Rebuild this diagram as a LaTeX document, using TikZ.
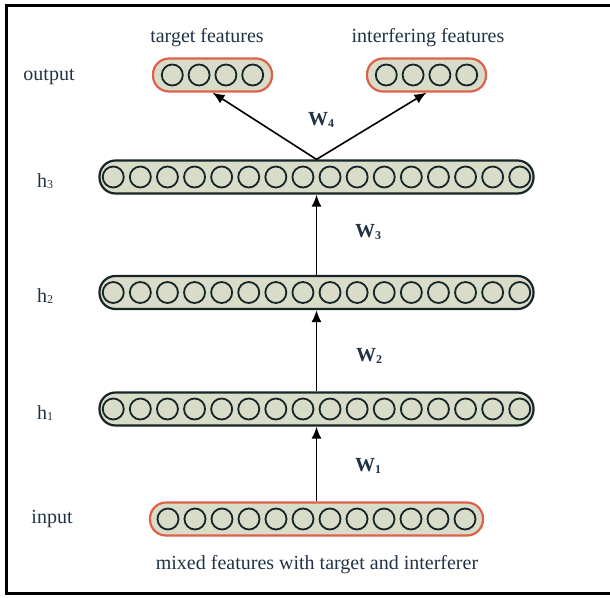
\documentclass[tikz,border=0pt]{standalone}
\usepackage{fontspec}
\setmainfont{Liberation Serif}
\usetikzlibrary{arrows.meta}
\definecolor{barfill}{RGB}{216,220,200}
\definecolor{darkline}{RGB}{22,38,40}
\definecolor{redline}{RGB}{222,98,74}
\definecolor{txt}{RGB}{32,50,68}
\newcommand{\sub}[1]{{\fontsize{12}{12}\selectfont\raisebox{-1.5pt}{#1}}}
\begin{document}
\begin{tikzpicture}[x=1pt,y=-1pt,
  hidbar/.style={rectangle, draw=darkline, line width=2.2pt, fill=barfill, rounded corners=16pt, minimum height=33pt, minimum width=434pt, inner sep=0pt},
  iobar/.style={rectangle, draw=redline, line width=2.2pt, fill=barfill, rounded corners=16pt, minimum height=33pt, inner sep=0pt},
  unit/.style={circle, draw=darkline, line width=1.8pt, minimum size=21pt, inner sep=0pt},
  lbl/.style={text=txt, font=\fontsize{20}{24}\selectfont, inner sep=0pt},
  wlbl/.style={text=txt, font=\fontsize{20}{24}\selectfont\bfseries, inner sep=0pt},
  arr/.style={draw=black, line width=1.6pt, -{Latex[length=12pt,width=10pt]}}]
\useasboundingbox (0,0) rectangle (610,597);
% frame
\draw[line width=3pt, black] (612,5.5) -- (6.5,5.5) -- (6.5,593) -- (612,593);
% bars
\node[iobar, minimum width=119pt] (tgt) at (212.5,75) {};
\node[iobar, minimum width=119pt] (intf) at (426.5,75) {};
\node[hidbar] (h3) at (316.5,177) {};
\node[hidbar] (h2) at (316.5,292.5) {};
\node[hidbar] (h1) at (316.5,409) {};
\node[iobar, minimum width=333pt] (inp) at (316.5,519) {};
% units
\foreach \i in {1,...,4} {
  \node[unit] (tu\i) at ({212.5+(\i-2.5)*26.8},75) {};
  \node[unit] (iu\i) at ({426.5+(\i-2.5)*26.8},75) {};
}
\foreach \i in {1,...,16} {
  \node[unit] (hc\i) at ({316.5+(\i-8.5)*27.1},177) {};
  \node[unit] (hb\i) at ({316.5+(\i-8.5)*27.1},292.5) {};
  \node[unit] (ha\i) at ({316.5+(\i-8.5)*27.1},409) {};
}
\foreach \i in {1,...,12} {
  \node[unit] (xu\i) at ({316.5+(\i-6.5)*27.0},519) {};
}
% connectors
\draw[arr] (inp.north) -- (h1.south);
\draw[arr] (h1.north) -- (h2.south);
\draw[arr] (h2.north) -- (h3.south);
\draw[arr] (h3.north) -- (tgt.south);
\draw[arr] (h3.north) -- (intf.south);
% labels
\node[lbl] (ltgt) at (207,38) {target features};
\node[lbl] (lint) at (428,38) {interfering features};
\node[lbl] (lout) at (49,77) {output};
\node[lbl] (lh3) at (45,181) {h\sub{3}};
\node[lbl] (lh2) at (45,296) {h\sub{2}};
\node[lbl] (lh1) at (45,413) {h\sub{1}};
\node[lbl] (lin) at (52,519) {input};
\node[lbl] (lmix) at (317,565) {mixed features with target and interferer};
\node[wlbl] (w4) at (321,120) {W\sub{4}};
\node[wlbl] (w3) at (368,232) {W\sub{3}};
\node[wlbl] (w2) at (369,356) {W\sub{2}};
\node[wlbl] (w1) at (368,466) {W\sub{1}};
\end{tikzpicture}
\end{document}
